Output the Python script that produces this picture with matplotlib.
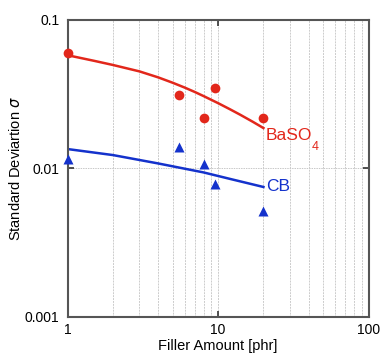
import numpy as np
import matplotlib
matplotlib.use("Agg")
import matplotlib.pyplot as plt
from matplotlib.ticker import FixedLocator, NullLocator, FixedFormatter

plt.rcParams['font.family'] = ['Liberation Sans', 'DejaVu Sans']
plt.rcParams['mathtext.fontset'] = 'dejavusans'

# measured points
filler = [1, 5.5, 8, 9.5, 20]
baso4_sd = [0.060, 0.031, 0.022, 0.035, 0.0218]
cb_sd = [0.0116, 0.0139, 0.0107, 0.0078, 0.0052]

# fitted curves
baso4_fit_x = [1, 1.5, 2, 3, 4, 5, 6, 7, 8, 10, 12, 14, 17, 20]
baso4_fit_y = [0.0578, 0.0530, 0.0497, 0.0450, 0.0410, 0.0377, 0.0350, 0.0327, 0.0307, 0.0275, 0.0250, 0.0230, 0.0206, 0.0187]
cb_fit_x = [1, 2, 4, 8, 12, 20]
cb_fit_y = [0.0135, 0.0123, 0.0108, 0.0094, 0.0085, 0.0075]

red = '#e2271b'
blue = '#1432cc'

fig = plt.figure(figsize=(3.82, 3.56), dpi=100)
ax = fig.add_axes([0.177, 0.1096, 0.788, 0.8346])
ax.set_xscale('log')
ax.set_yscale('log')
ax.set_xlim(1, 100)
ax.set_ylim(0.001, 0.1)

# grid: vertical minor lines, only the 0.01 horizontal line
minor_x = [m * d for d in (1, 10) for m in range(2, 10)]
for xv in minor_x + [10]:
    ax.axvline(xv, color='#cccccc', lw=0.7, ls=(0, (2, 1)), zorder=0)
ax.axhline(0.01, color='#c8c8c8', lw=0.7, ls=(0, (1.5, 1)), zorder=0)

ax.plot(baso4_fit_x, baso4_fit_y, color=red, lw=1.8, zorder=2)
ax.plot(cb_fit_x, cb_fit_y, color=blue, lw=1.8, zorder=2)
ax.plot(filler, baso4_sd, 'o', color=red, ms=7, mec='none', zorder=3, clip_on=False)
ax.plot(filler, cb_sd, '^', color=blue, ms=6.5, mec='none', zorder=3, clip_on=False)

ax.text(20.8, 0.0187, 'BaSO', color=red, fontsize=12.5, va='top', ha='left')
ax.text(42, 0.0152, '4', color=red, fontsize=9, va='top', ha='left')
ax.text(20.8, 0.0075, 'CB', color=blue, fontsize=12.5, va='center', ha='left')

ax.xaxis.set_major_locator(FixedLocator([1, 10, 100]))
ax.xaxis.set_major_formatter(FixedFormatter(['1', '10', '100']))
ax.xaxis.set_minor_locator(NullLocator())
ax.yaxis.set_major_locator(FixedLocator([0.001, 0.01, 0.1]))
ax.yaxis.set_major_formatter(FixedFormatter(['0.001', '0.01', '0.1']))
ax.yaxis.set_minor_locator(NullLocator())
ax.tick_params(which='major', direction='in', length=4, width=1.2, color='#333333',
               top=True, right=True, labelsize=10)
ax.tick_params(axis='x', pad=4)
ax.tick_params(axis='y', pad=6)

for s in ax.spines.values():
    s.set_color('#555555')
    s.set_linewidth(1.5)

ax.set_xlabel('Filler Amount [phr]', fontsize=10.5, labelpad=2)
ax.set_ylabel(r'Standard Deviartion $\sigma$', fontsize=10.5, labelpad=1)

fig.savefig('out.png', dpi=100)
